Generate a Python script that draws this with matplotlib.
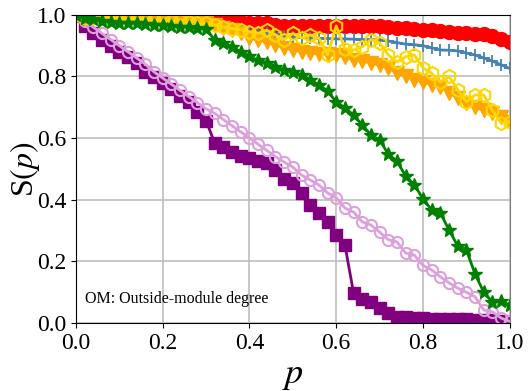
import numpy as np
import matplotlib
matplotlib.use("Agg")
import matplotlib.pyplot as plt

plt.rcParams['font.family'] = ['Liberation Serif', 'DejaVu Serif']
plt.rcParams['mathtext.fontset'] = 'stix'

p = np.round(np.arange(0, 51) * 0.02, 2)

red = [1.0, .999, .998, .998, .997, .997, .996, .996, .995, .995, .994, .994, .993, .993, .992,
       .99, .987, .982, .978, .976, .975, .974, .972, .968, .965, .965, .965, .965, .964, .965,
       .964, .965, .964, .964, .963, .963, .96, .958, .957, .955, .952, .95, .946, .944, .94,
       .94, .939, .937, .932, .922, .912]
blue = [1.0, .998, .997, .995, .994, .993, .99, .99, .988, .987, .985, .983, .98, .978, .975,
        .972, .965, .96, .955, .95, .948, .945, .942, .938, .932, .928, .926, .925, .924, .923,
        .922, .922, .921, .92, .92, .918, .915, .91, .905, .903, .9, .893, .886, .885, .883,
        .876, .87, .86, .85, .838, .826]
orange = [1.0, .995, .99, .99, .99, .99, .988, .988, .985, .985, .983, .982, .98, .98, .978,
          .975, .968, .958, .95, .94, .925, .918, .912, .903, .893, .886, .88, .876, .874, .872,
          .87, .862, .854, .85, .844, .836, .828, .81, .80, .79, .782, .773, .766, .747, .731,
          .714, .70, .69, .68, .669, .653]
gold = [1.0, .99, .992, .99, .988, .99, .985, .988, .985, .983, .985, .98, .982, .978, .975,
        .972, .968, .96, .955, .952, .945, .94, .95, .935, .92, .94, .925, .935, .925, .87,
        .964, .89, .886, .896, .92, .909, .87, .847, .864, .87, .828, .81, .782, .80, .757,
        .718, .74, .74, .69, .649, .653]
green = [1.0, .99, .985, .98, .978, .975, .975, .972, .97, .968, .967, .965, .962, .96, .958,
         .955, .918, .91, .897, .88, .865, .852, .845, .832, .822, .815, .805, .789, .773, .753,
         .718, .698, .675, .643, .61, .594, .548, .525, .477, .448, .403, .367, .357, .302, .25,
         .237, .159, .10, .068, .071, .058]
purple = [1.0, .965, .94, .918, .898, .878, .862, .845, .815, .798, .78, .758, .737, .716, .685,
          .656, .584, .571, .556, .543, .535, .526, .519, .497, .466, .455, .422, .383, .357, .328,
          .286, .253, .097, .078, .068, .049, .032, .02, .018, .016, .015, .014, .013, .013, .012,
          .012, .011, .011, .01, .005, .002]
plum = [1.0, .98, .96, .94, .92, .90, .88, .86, .84, .815, .795, .775, .755, .735, .715,
        .695, .68, .66, .64, .62, .60, .58, .56, .54, .522, .506, .48, .464, .448, .422,
        .406, .373, .36, .328, .318, .295, .27, .263, .227, .22, .187, .172, .15, .13, .113,
        .10, .085, .042, .036, .016, .005]

fig, ax = plt.subplots(figsize=(5.31, 3.91), dpi=100)
fig.subplots_adjust(left=0.143, right=0.960, top=0.962, bottom=0.174)

ax.plot(p, purple, color='purple', marker='s', ms=8.5, lw=2)
ax.plot(p, plum, color='plum', marker='o', ms=8, mfc='none', mew=1.5, lw=2)
ax.plot(p, red, color='red', marker='o', ms=10, lw=2)
ax.plot(p, blue, color='steelblue', marker='+', ms=9, mew=1.3, lw=2)
ax.plot(p, orange, color='orange', marker='v', ms=9.5, lw=2)
ax.plot(p, gold, color='gold', marker='h', ms=9.5, mfc='none', mew=1.5, lw=2)
ax.plot(p, green, color='green', marker='*', ms=10, lw=2)

ax.set_xlim(0, 1)
ax.set_ylim(0, 1)
ax.grid(True, color='#bdbdbd', lw=1.2)
ax.set_axisbelow(True)
ax.tick_params(labelsize=17)
ax.spines['right'].set_color('gray')
ax.set_xlabel(r'$p$', fontsize=26)
ax.set_ylabel(r'S$(p)$', fontsize=23)
ax.yaxis.set_label_coords(-0.078, 0.5)
ax.text(0.02, 0.065, 'OM: Outside-module degree', fontsize=11.5)

fig.savefig('out.png')
